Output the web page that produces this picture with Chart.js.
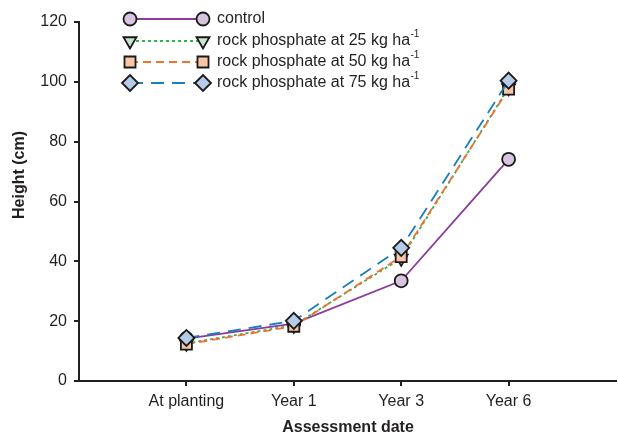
<!DOCTYPE html>
<html>
<head>
<meta charset="utf-8">
<script src="https://cdn.jsdelivr.net/npm/chart.js@4"></script>
<style>
  html, body { margin: 0; padding: 0; background: #fff; }
  #wrap { width: 618px; height: 437px; position: relative; }
</style>
</head>
<body>
<div id="wrap"><canvas id="heightChart"></canvas></div>
<script>
// categories and series (Height, cm)
const categories = ['At planting', 'Year 1', 'Year 3', 'Year 6'];
const control = [14.2, 19.2, 33.5, 74.1];
const rp25 = [12.6, 18.6, 41.0, 98.0];
const rp50 = [12.3, 18.3, 41.6, 97.6];
const rp75 = [14.4, 20.1, 44.5, 100.4];
const yTicks = [0, 20, 40, 60, 80, 100, 120];

const textColor = '#231f20';
const font = 'Liberation Sans, Arial, sans-serif';

const toPoints = vals => vals.map((v, i) => ({ x: i, y: v }));

const series = [
  { label: 'control', data: control, color: '#8b3a9e', fill: '#d8c4e1', dash: [], style: 'circle', radius: 6.5, rotation: 0, sup: false, order: 4 },
  { label: 'rock phosphate at 25 kg ha', data: rp25, color: '#2fb34a', fill: '#c9e7cb', dash: [3, 3], style: 'triangle', radius: 7.5, rotation: 180, sup: true, order: 3 },
  { label: 'rock phosphate at 50 kg ha', data: rp50, color: '#f07232', fill: '#f8c5a7', dash: [8, 5], style: 'rect', radius: 7.8, rotation: 0, sup: true, order: 2 },
  { label: 'rock phosphate at 75 kg ha', data: rp75, color: '#1b7dc0', fill: '#b5cbe8', dash: [13, 8], style: 'rectRot', radius: 8, rotation: 0, sup: true, order: 1 }
];

// legend: line with a marker at both ends, like the original
const legendPlugin = {
  id: 'pairLegend',
  afterDraw(chart) {
    const ctx = chart.ctx;
    const x0 = 130, x1 = 203, rows = [19, 41, 62, 83];
    series.forEach((s, i) => {
      const y = rows[i];
      ctx.save();
      ctx.strokeStyle = s.color;
      ctx.lineWidth = 1.8;
      ctx.setLineDash(s.dash);
      ctx.beginPath();
      ctx.moveTo(x0, y);
      ctx.lineTo(x1, y);
      ctx.stroke();
      ctx.setLineDash([]);
      ctx.fillStyle = s.fill;
      ctx.strokeStyle = '#1a1a1a';
      ctx.lineWidth = 1.8;
      [x0, x1].forEach(x => {
        Chart.helpers.drawPoint(ctx, { pointStyle: s.style, radius: s.radius, rotation: s.rotation, borderWidth: 1.8 }, x, y);
      });
      ctx.fillStyle = textColor;
      ctx.font = '16px ' + font;
      ctx.textBaseline = 'middle';
      ctx.textAlign = 'left';
      ctx.fillText(s.label, 217, y);
      if (s.sup) {
        const w = ctx.measureText(s.label).width;
        ctx.font = '10px ' + font;
        ctx.fillText('-1', 217 + w + 0.5, y - 7);
      }
      ctx.restore();
    });
  }
};

// axis titles
const titlesPlugin = {
  id: 'axisTitles',
  afterDraw(chart) {
    const ctx = chart.ctx;
    ctx.save();
    ctx.fillStyle = textColor;
    ctx.font = 'bold 16px ' + font;
    ctx.textAlign = 'center';
    ctx.textBaseline = 'middle';
    ctx.fillText('Assessment date', 348, 428);
    ctx.translate(20, 175);
    ctx.rotate(-Math.PI / 2);
    ctx.fillText('Height (cm)', 0, 0);
    ctx.restore();
  }
};

new Chart(document.getElementById('heightChart'), {
  type: 'line',
  data: {
    datasets: series.map(s => ({
      label: s.label,
      data: toPoints(s.data),
      borderColor: s.color,
      borderWidth: 1.8,
      borderDash: s.dash,
      backgroundColor: s.fill,
      pointBackgroundColor: s.fill,
      pointBorderColor: '#1a1a1a',
      pointBorderWidth: 1.8,
      pointStyle: s.style,
      pointRadius: s.radius,
      pointRotation: s.rotation,
      tension: 0,
      order: s.order
    }))
  },
  options: {
    responsive: true,
    maintainAspectRatio: false,
    animation: false,
    layout: { autoPadding: false, padding: { top: 22, right: 2, left: 0, bottom: 0 } },
    plugins: {
      legend: { display: false },
      tooltip: { enabled: false }
    },
    scales: {
      x: {
        type: 'linear',
        min: -1,
        max: 4,
        afterBuildTicks: scale => { scale.ticks = categories.map((c, i) => ({ value: i })); },
        afterFit: scale => { scale.height = 56; },
        grid: { display: true, drawOnChartArea: false, drawTicks: true, tickLength: 5, color: '#231f20', lineWidth: 2 },
        border: { display: true, color: '#231f20', width: 2 },
        ticks: {
          color: textColor,
          font: { family: font, size: 16 },
          padding: 6,
          maxRotation: 0,
          autoSkip: false,
          callback: v => categories[v] || ''
        }
      },
      y: {
        min: 0,
        max: 120,
        afterBuildTicks: scale => { scale.ticks = yTicks.map(v => ({ value: v })); },
        afterFit: scale => { scale.width = 79; },
        grid: { display: true, drawOnChartArea: false, drawTicks: true, tickLength: 5, color: '#231f20', lineWidth: 2 },
        border: { display: true, color: '#231f20', width: 2 },
        ticks: {
          color: textColor,
          font: { family: font, size: 16 },
          padding: 7
        }
      }
    }
  },
  plugins: [legendPlugin, titlesPlugin]
});
</script>
</body>
</html>
